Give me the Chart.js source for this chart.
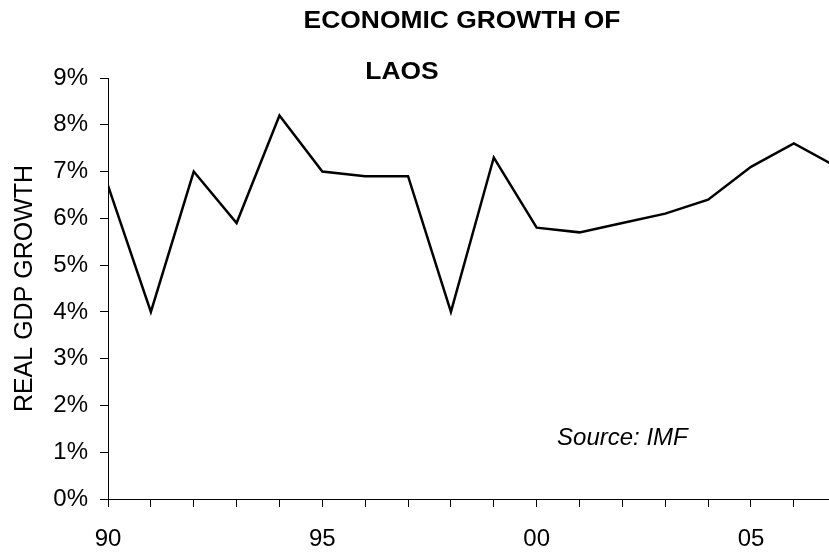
<!DOCTYPE html>
<html>
<head>
<meta charset="utf-8">
<script src="https://cdn.jsdelivr.net/npm/chart.js@4"></script>
<style>
  html, body { margin: 0; padding: 0; background: #fff; }
  #wrap { width: 829px; height: 552px; position: relative; }
</style>
</head>
<body>
<div id="wrap"><canvas id="gdpChart"></canvas></div>
<script>
// Real GDP growth of Laos, % per year
const years = [1990, 1991, 1992, 1993, 1994, 1995, 1996, 1997, 1998, 1999,
               2000, 2001, 2002, 2003, 2004, 2005, 2006, 2007];
const growth = [6.7, 4.0, 7.0, 5.9, 8.2, 7.0, 6.9, 6.9, 4.0, 7.3,
                5.8, 5.7, 5.9, 6.1, 6.4, 7.1, 7.6, 7.1];
const yTicks = [0, 1, 2, 3, 4, 5, 6, 7, 8, 9];
const labelYears = [1990, 1995, 2000, 2005];

const FONT = "'Liberation Sans', Arial, sans-serif";

// slightly wide bold title, drawn stretched like the original
const drawWide = (ctx, text, cx, cy, stretch) => {
  ctx.save();
  ctx.translate(cx, cy);
  ctx.scale(stretch, 1);
  ctx.fillText(text, 0, 0);
  ctx.restore();
};

// title lines and source note drawn on the canvas
const textPlugin = {
  id: "textPlugin",
  afterDraw(chart) {
    const ctx = chart.ctx;
    const x = chart.scales.x;
    const y = chart.scales.y;
    ctx.save();
    ctx.fillStyle = "#000";
    ctx.textAlign = "center";
    ctx.textBaseline = "middle";
    ctx.font = "bold 24px " + FONT;
    drawWide(ctx, "ECONOMIC GROWTH OF", 462, 21, 1.1);
    drawWide(ctx, "LAOS", 402, 72, 1.1);
    ctx.font = "italic 24px " + FONT;
    ctx.fillText("Source: IMF", x.getPixelForValue(2002), y.getPixelForValue(1.3));
    ctx.restore();
  },
};

const ctx = document.getElementById("gdpChart").getContext("2d");
new Chart(ctx, {
  type: "line",
  data: {
    datasets: [
      {
        data: years.map((yr, i) => ({ x: yr, y: growth[i] })),
        borderColor: "#000",
        borderWidth: 2.5,
        pointRadius: 0,
        tension: 0,
        fill: false,
      },
    ],
  },
  options: {
    responsive: true,
    maintainAspectRatio: false,
    animation: false,
    layout: { padding: { top: 78, left: 0, right: 0, bottom: 0 } },
    plugins: { legend: { display: false }, title: { display: false }, tooltip: { enabled: false } },
    scales: {
      x: {
        type: "linear",
        min: 1990,
        max: 2006.82,
        afterFit: (s) => { s.height = 53; },
        border: { display: true, color: "#000", width: 1 },
        grid: { drawOnChartArea: false, drawTicks: true, tickLength: 8, color: "#000" },
        ticks: {
          stepSize: 1,
          includeBounds: false,
          autoSkip: false,
          maxRotation: 0,
          padding: 18,
          color: "#000",
          font: { family: FONT, size: 24 },
          callback: (v) => labelYears.includes(v) ? String(v).slice(2) : "",
        },
      },
      y: {
        min: 0,
        max: 9,
        afterFit: (s) => { s.width = 108; },
        afterBuildTicks: (s) => { s.ticks = yTicks.map((v) => ({ value: v })); },
        border: { display: true, color: "#000", width: 1 },
        grid: { drawOnChartArea: false, drawTicks: true, tickLength: 8, color: "#000" },
        title: {
          display: true,
          text: "REAL GDP GROWTH",
          color: "#000",
          font: { family: FONT, size: 25 },
          padding: { top: 10, bottom: 0 },
        },
        ticks: {
          padding: 12,
          color: "#000",
          font: { family: FONT, size: 24 },
          callback: (v) => v + "%",
        },
      },
    },
  },
  plugins: [textPlugin],
});
</script>
</body>
</html>
